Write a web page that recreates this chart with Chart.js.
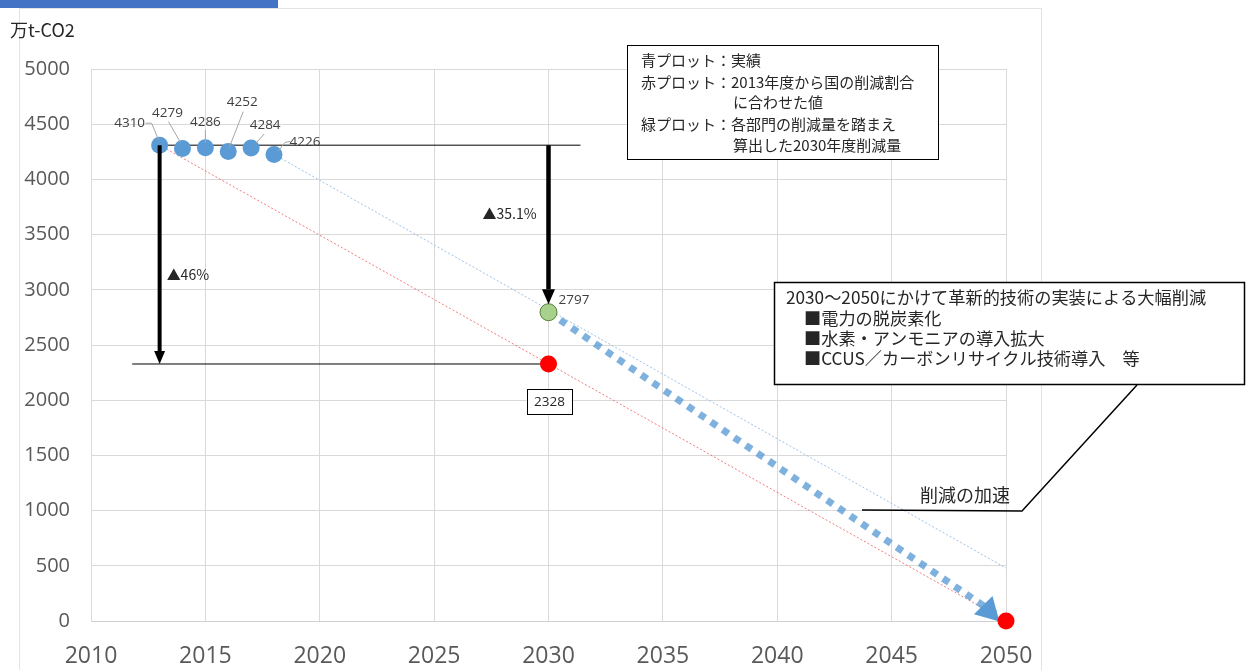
<!DOCTYPE html>
<html>
<head>
<meta charset="utf-8">
<script src="https://cdn.jsdelivr.net/npm/chart.js@4.4.0/dist/chart.umd.min.js"></script>
<style>
  html, body { margin: 0; padding: 0; background: #fff; }
  canvas { display: block; }
</style>
</head>
<body>
<canvas id="chart" width="1252" height="670"></canvas>
<script>
// 青プロット：実績
const actualYears = [2013, 2014, 2015, 2016, 2017, 2018];
const actualValues = [4310, 4279, 4286, 4252, 4284, 4226];

// 赤プロット：国の削減割合に合わせた値
const nationalYears = [2030, 2050];
const nationalValues = [2328, 0];

// 緑プロット：各部門の削減量から算出
const sectorYears = [2030];
const sectorValues = [2797];

// 補助線
const redTrendYears = [2013, 2050];
const redTrendValues = [4310, 0];
const blueTrendYears = [2018, 2050];
const blueTrendValues = [4226, 480];
const accelYears = [2030, 2050];
const accelValues = [2797, 0];
const baseLineYears = [2013, 2031.4];
const baseLineValues = [4310, 4310];
const targetLineYears = [2011.8, 2030];
const targetLineValues = [2328, 2328];

// 目盛り
const xTickValues = [2010, 2015, 2020, 2025, 2030, 2035, 2040, 2045, 2050];
const yTickValues = [0, 500, 1000, 1500, 2000, 2500, 3000, 3500, 4000, 4500, 5000];

// ラベル位置（点からのずれ）
const labelOffsets = [
    { dx: -30, dy: -22, leader: [[-14, -22], [-8, -22], [-1, -5]] },
    { dx: -15, dy: -35, leader: [[-14, -27], [-2, -6]] },
    { dx: 0, dy: -26, leader: [[0, -18], [0, -5]] },
    { dx: 14, dy: -49, leader: [[15, -40], [1, -4]] },
    { dx: 14, dy: -23, leader: [[13, -14], [5, -5]] },
    { dx: 31, dy: -12, leader: [[16, -13], [11, -12], [4, -3]] }
];

const JP = '"Noto Sans CJK JP", sans-serif';
const NUM = '"Open Sans", sans-serif';

function toPoints(xs, ys) {
    return xs.map((x, i) => ({ x: x, y: ys[i] }));
}

function drawArrow(c, x1, y1, x2, y2, w, hl, hw, color) {
    const a = Math.atan2(y2 - y1, x2 - x1);
    const bx = x2 - hl * Math.cos(a), by = y2 - hl * Math.sin(a);
    c.strokeStyle = color;
    c.lineWidth = w;
    c.lineCap = 'butt';
    c.beginPath();
    c.moveTo(x1, y1);
    c.lineTo(bx, by);
    c.stroke();
    drawHead(c, x2, y2, a, hl, hw, color);
}

function drawHead(c, tx, ty, a, hl, hw, color) {
    const bx = tx - hl * Math.cos(a), by = ty - hl * Math.sin(a);
    c.fillStyle = color;
    c.beginPath();
    c.moveTo(tx, ty);
    c.lineTo(bx + hw / 2 * Math.sin(a), by - hw / 2 * Math.cos(a));
    c.lineTo(bx - hw / 2 * Math.sin(a), by + hw / 2 * Math.cos(a));
    c.closePath();
    c.fill();
}

const annotations = {
    id: 'annotations',
    beforeDraw(chart) {
        const c = chart.ctx;
        c.save();
        c.fillStyle = '#fff';
        c.fillRect(0, 0, chart.width, chart.height);
        c.strokeStyle = '#e3e3e3';
        c.lineWidth = 1;
        c.strokeRect(19.5, 8.5, 1022, 700);
        c.fillStyle = '#4472c4';
        c.fillRect(0, 0, 278, 8);
        c.fillStyle = '#262626';
        c.font = '18px ' + JP;
        c.textBaseline = 'middle';
        c.fillText('万t-CO2', 10, 30);
        c.restore();
    },
    afterDatasetDraw(chart, args) {
        if (chart.data.datasets[args.index].id !== 'accel') return;
        const xs = chart.scales.x, ys = chart.scales.y;
        const x1 = xs.getPixelForValue(accelYears[0]), y1 = ys.getPixelForValue(accelValues[0]);
        const x2 = xs.getPixelForValue(accelYears[1]), y2 = ys.getPixelForValue(accelValues[1]);
        const a = Math.atan2(y2 - y1, x2 - x1);
        const c = chart.ctx;
        c.save();
        drawHead(c, x2 - 8 * Math.cos(a), y2 - 8 * Math.sin(a) + 5, a + 0.2, 23, 26, '#5b9bd5');
        c.restore();
    },
    afterDatasetsDraw(chart) {
        const c = chart.ctx;
        const xs = chart.scales.x, ys = chart.scales.y;
        c.save();

        // 削減矢印
        const ax = xs.getPixelForValue(actualYears[0]);
        drawArrow(c, ax, ys.getPixelForValue(actualValues[0]), ax, ys.getPixelForValue(nationalValues[0]), 4, 13, 11, '#000');
        const bx = xs.getPixelForValue(sectorYears[0]);
        drawArrow(c, bx, ys.getPixelForValue(actualValues[0]), bx, ys.getPixelForValue(sectorValues[0]) - 8, 4.5, 15, 13, '#000');

        c.fillStyle = '#262626';
        c.font = '14px ' + JP;
        c.textBaseline = 'middle';
        c.textAlign = 'left';
        c.fillText('▲46%', ax + 7, ys.getPixelForValue(3140));
        c.fillText('▲35.1%', bx - 66, ys.getPixelForValue(3690));

        // 実績ラベル
        c.font = '13.5px ' + NUM;
        c.textAlign = 'center';
        actualYears.forEach((yr, i) => {
            const px = xs.getPixelForValue(yr), py = ys.getPixelForValue(actualValues[i]);
            const o = labelOffsets[i];
            c.strokeStyle = '#a6a6a6';
            c.lineWidth = 1;
            c.beginPath();
            o.leader.forEach((p, k) => {
                if (k === 0) c.moveTo(px + p[0], py + p[1]);
                else c.lineTo(px + p[0], py + p[1]);
            });
            c.stroke();
            c.fillStyle = '#404040';
            c.fillText(String(actualValues[i]), px + o.dx, py + o.dy);
        });

        // 2797
        const gx = xs.getPixelForValue(sectorYears[0]), gy = ys.getPixelForValue(sectorValues[0]);
        c.textAlign = 'left';
        c.fillText(String(sectorValues[0]), gx + 10, gy - 12);

        // 2328（枠付き）
        const rx = xs.getPixelForValue(nationalYears[0]), ry = ys.getPixelForValue(nationalValues[0]);
        c.fillStyle = '#fff';
        c.fillRect(rx - 22, ry + 25, 45, 25);
        c.strokeStyle = '#000';
        c.lineWidth = 1;
        c.strokeRect(Math.round(rx - 22) + 0.5, Math.round(ry + 25) + 0.5, 45, 25);
        c.fillStyle = '#262626';
        c.textAlign = 'center';
        c.fillText(String(nationalValues[0]), rx + 1, ry + 38);

        // 凡例ボックス
        c.fillStyle = '#fff';
        c.fillRect(627, 45, 311, 114);
        c.strokeStyle = '#000';
        c.lineWidth = 1;
        c.strokeRect(627.5, 45.5, 311, 114);
        c.fillStyle = '#262626';
        c.font = '15px ' + JP;
        c.textAlign = 'left';
        c.fillText('青プロット：実績', 641, 60);
        c.fillText('赤プロット：2013年度から国の削減割合', 641, 82);
        c.fillText('に合わせた値', 733, 102);
        c.fillText('緑プロット：各部門の削減量を踏まえ', 641, 124);
        c.fillText('算出した2030年度削減量', 733, 145);

        // 革新的技術ボックス
        c.fillStyle = '#fff';
        c.fillRect(774, 282, 471, 102);
        c.lineWidth = 1.5;
        c.strokeRect(774.5, 282.5, 470, 102);
        c.fillStyle = '#262626';
        c.font = '17.2px ' + JP;
        c.fillText('2030～2050にかけて革新的技術の実装による大幅削減', 786, 297);
        c.fillText('■電力の脱炭素化', 804, 318);
        c.fillText('■水素・アンモニアの導入拡大', 804, 338);
        c.fillText('■CCUS／カーボンリサイクル技術導入　等', 804, 358);

        // 吹き出し線
        c.strokeStyle = '#000';
        c.lineWidth = 1.5;
        c.beginPath();
        c.moveTo(1137, 385);
        c.lineTo(1022, 511);
        c.lineTo(862, 510);
        c.stroke();
        c.font = '18px ' + JP;
        c.fillText('削減の加速', 920, 495);

        c.restore();
    }
};

new Chart(document.getElementById('chart'), {
    type: 'scatter',
    data: {
        datasets: [
            {
                id: 'green',
                data: toPoints(sectorYears, sectorValues),
                pointRadius: 8.5,
                pointBackgroundColor: '#a9d18e',
                pointBorderColor: '#538135',
                pointBorderWidth: 1,
                clip: false,
                order: 1
            },
            {
                id: 'red',
                data: toPoints(nationalYears, nationalValues),
                pointRadius: 8.5,
                pointBackgroundColor: '#ff0000',
                pointBorderWidth: 0,
                clip: false,
                order: 1
            },
            {
                id: 'actual',
                data: toPoints(actualYears, actualValues),
                pointRadius: 8.5,
                pointBackgroundColor: '#5b9bd5',
                pointBorderWidth: 0,
                clip: false,
                order: 2
            },
            {
                id: 'accel',
                data: toPoints(accelYears, accelValues),
                showLine: true,
                borderColor: 'rgba(91,155,213,0.78)',
                borderWidth: 7,
                borderDash: [7, 7],
                borderCapStyle: 'butt',
                pointRadius: 0,
                clip: false,
                order: 3
            },
            {
                id: 'base',
                data: toPoints(baseLineYears, baseLineValues),
                showLine: true,
                borderColor: '#000',
                borderWidth: 1,
                pointRadius: 0,
                order: 4
            },
            {
                id: 'target',
                data: toPoints(targetLineYears, targetLineValues),
                showLine: true,
                borderColor: '#000',
                borderWidth: 1,
                pointRadius: 0,
                order: 4
            },
            {
                id: 'redTrend',
                data: toPoints(redTrendYears, redTrendValues),
                showLine: true,
                borderColor: 'rgba(240,80,80,0.75)',
                borderWidth: 1,
                borderDash: [2, 2],
                pointRadius: 0,
                order: 5
            },
            {
                id: 'blueTrend',
                data: toPoints(blueTrendYears, blueTrendValues),
                showLine: true,
                borderColor: '#9dc3e6',
                borderWidth: 1,
                borderDash: [2, 2],
                pointRadius: 0,
                order: 5
            }
        ]
    },
    options: {
        responsive: false,
        animation: false,
        layout: { padding: { top: 69, right: 246, bottom: 0, left: 0 } },
        plugins: { legend: { display: false }, tooltip: { enabled: false } },
        scales: {
            x: {
                type: 'linear',
                min: 2010,
                max: 2050,
                afterFit: s => { s.height = 49; },
                afterBuildTicks: s => { s.ticks = xTickValues.map(v => ({ value: v })); },
                grid: { color: '#d9d9d9', drawTicks: false },
                border: { color: '#d0d0d0' },
                ticks: {
                    padding: 22,
                    color: '#595959',
                    font: { family: NUM, size: 23 },
                    callback: v => String(v)
                }
            },
            y: {
                min: 0,
                max: 5000,
                afterFit: s => { s.width = 91; },
                afterBuildTicks: s => { s.ticks = yTickValues.map(v => ({ value: v })); },
                grid: { color: '#d9d9d9', drawTicks: false },
                border: { color: '#d9d9d9' },
                ticks: {
                    padding: 21,
                    color: '#595959',
                    font: { family: NUM, size: 20 },
                    callback: v => String(v)
                }
            }
        }
    },
    plugins: [annotations]
});
</script>
</body>
</html>
